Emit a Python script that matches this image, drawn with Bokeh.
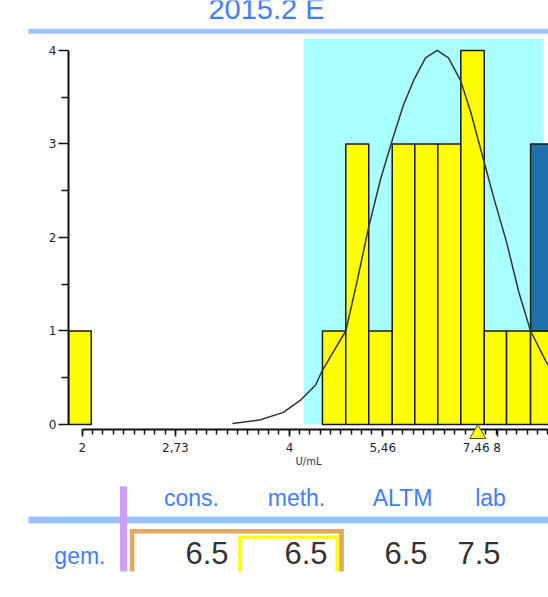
import numpy as np
from bokeh.plotting import figure
from bokeh.layouts import column
from bokeh.models import Range1d, FixedTicker, CustomJSTickFormatter, LogAxis
from bokeh.core.properties import value
from bokeh.embed import file_html
from bokeh.resources import INLINE

# ---------------- data ----------------
title_text = "2015.2 E"
bin_left = [1.910, 4.463, 4.825, 5.210, 5.635, 6.077, 6.563, 7.087, 7.664, 8.258, 8.948]
bin_right = [2.061, 4.825, 5.210, 5.635, 6.077, 6.563, 7.087, 7.664, 8.258, 8.948, 9.660]
count_yellow = [1, 1, 3, 1, 3, 3, 3, 4, 1, 1, 1]
count_blue = [0, 0, 0, 0, 0, 0, 0, 0, 0, 0, 2]
target_range = [4.19, 9.34]
curve_x = [3.303, 3.627, 3.917, 4.147, 4.36, 4.463, 4.63, 4.825, 5.0, 5.205, 5.418,
           5.635, 5.852, 6.071, 6.298, 6.55, 6.80, 7.08, 7.32, 7.614, 7.93, 8.258,
           8.60, 8.948, 9.41, 9.6]
curve_y = [0.01, 0.05, 0.13, 0.26, 0.42, 0.58, 0.78, 1.0, 1.5, 2.1, 2.62,
           3.04, 3.42, 3.7, 3.92, 4.0, 3.92, 3.68, 3.35, 2.88, 2.4, 1.95,
           1.42, 1.0, 0.68, 0.58]
x_ticks = [2, 2.73, 4, 5.46, 7.46, 8]
y_ticks = [0, 1, 2, 3, 4]
y_minor = [0.5, 1.5, 2.5, 3.5]
x_label = "U/mL"
lab_value = 7.5
table_headers = ["cons.", "meth.", "ALTM", "lab"]
table_values = ["6.5", "6.5", "6.5", "7.5"]
row_label = "gem."

BLUE_TXT = "#3f7fff"
BLUE_LINE = "#9cc3ff"
AX_TXT = "#1d1d3d"
AX_LINE = "#111111"

W = 548

# ---------------- header (page y 0..38) ----------------
h = figure(width=W, height=38, x_range=Range1d(0, 548), y_range=Range1d(38, 0),
           min_border=0, toolbar_location=None, output_backend="svg",
           x_axis_location=None, y_axis_location=None, outline_line_color=None)
h.grid.visible = False
h.text(x=[266], y=[8], text=[title_text], text_font=value("Liberation Sans"),
       text_font_size="29px", text_color=BLUE_TXT, text_align="center",
       text_baseline="alphabetic")
h.quad(left=[28], right=[548], top=[28.3], bottom=[33.3], fill_color=BLUE_LINE, line_color=None)

# ---------------- main histogram (page y 38..485) ----------------
p = figure(width=W, height=447, x_axis_type="log",
           x_range=Range1d(1.91, 9.50), y_range=Range1d(-0.171, 4.128),
           min_border_left=68, min_border_right=0, min_border_top=0, min_border_bottom=45,
           toolbar_location=None, output_backend="svg", outline_line_color=None,
           background_fill_color="white", border_fill_color="white")
p.grid.visible = False

p.quad(left=[target_range[0]], right=[target_range[1]], bottom=[0], top=[4.2],
       fill_color="#aaffff", line_color=None)
p.quad(left=bin_left, right=bin_right, bottom=[0] * len(bin_left), top=count_yellow,
       fill_color="#ffff00", line_color="#1a1a1a", line_width=1.5)
bl, br, bb, bt = [], [], [], []
for l, r, y, b in zip(bin_left, bin_right, count_yellow, count_blue):
    if b > 0:
        bl.append(l); br.append(r); bb.append(y); bt.append(y + b)
p.quad(left=bl, right=br, bottom=bb, top=bt, fill_color="#1f71ab",
       line_color="#1a1a1a", line_width=1.5)
p.line(curve_x, curve_y, line_color="#333333", line_width=1.5)

step = np.log(2.73 / 2) / 9
minor = [float(2 * np.exp(k * step)) for k in range(0, 60)]

# labelled axis at the frame bottom: only labels and title
xa = p.xaxis[0]
xa.ticker = FixedTicker(ticks=x_ticks, minor_ticks=minor)
xa.formatter = CustomJSTickFormatter(code="return String(tick).replace('.', ',');")
xa.axis_line_color = None
xa.major_tick_line_color = None
xa.minor_tick_line_color = None
xa.major_tick_out = 0
xa.major_tick_in = 0
xa.minor_tick_out = 0
xa.minor_tick_in = 0
xa.major_label_text_font = "DejaVu Sans"
xa.major_label_text_font_size = "12px"
xa.major_label_text_color = AX_TXT
xa.major_label_standoff = 2
xa.axis_label = x_label
xa.axis_label_text_font = "DejaVu Sans"
xa.axis_label_text_font_size = "10px"
xa.axis_label_text_font_style = "normal"
xa.axis_label_text_color = "#333355"
xa.axis_label_standoff = 1

# axis line and ticks, offset a little below the bars
xr = LogAxis(fixed_location=-0.0535, ticker=FixedTicker(ticks=x_ticks, minor_ticks=minor),
             formatter=CustomJSTickFormatter(code="return '';"), bounds=(2, 30),
             axis_line_width=2, axis_line_color=AX_LINE,
             major_tick_out=7, major_tick_in=0, minor_tick_out=5, minor_tick_in=0,
             major_tick_line_width=1.5, minor_tick_line_width=1.5,
             major_tick_line_color=AX_LINE, minor_tick_line_color=AX_LINE)
p.add_layout(xr, "below")

ya = p.yaxis[0]
ya.ticker = FixedTicker(ticks=y_ticks, minor_ticks=y_minor)
ya.bounds = (0, 4)
ya.axis_line_width = 2
ya.axis_line_color = AX_LINE
ya.major_tick_out = 10
ya.major_tick_in = 0
ya.minor_tick_out = 7
ya.minor_tick_in = 0
ya.major_tick_line_width = 1.5
ya.minor_tick_line_width = 1.5
ya.major_tick_line_color = AX_LINE
ya.minor_tick_line_color = AX_LINE
ya.major_label_text_font = "DejaVu Sans"
ya.major_label_text_font_size = "12px"
ya.major_label_text_color = AX_TXT
ya.major_label_standoff = 2

p.scatter(x=[lab_value], y=[-0.1], marker="triangle", size=16,
          fill_color="#ffff00", line_color="#4d4d20", line_width=1, level="overlay")

# ---------------- table (page y 485..597) ----------------
t = figure(width=W, height=112, x_range=Range1d(0, 548), y_range=Range1d(597, 485),
           min_border=0, toolbar_location=None, output_backend="svg",
           x_axis_location=None, y_axis_location=None, outline_line_color=None)
t.grid.visible = False
t.quad(left=[28], right=[548], top=[516], bottom=[523], fill_color=BLUE_LINE, line_color=None)
t.quad(left=[119.5], right=[126.5], top=[485.7], bottom=[571], fill_color="#cf9fff", line_color=None)
t.multi_line(xs=[[131.6, 131.6, 341, 341]], ys=[[571, 530.7, 530.7, 571]],
             line_color="#e0a862", line_width=4.6, line_join="miter")
t.multi_line(xs=[[239.3, 239.3, 336.6, 336.6]], ys=[[571, 536.7, 536.7, 571]],
             line_color="#ffff00", line_width=3.3, line_join="miter")
t.text(x=[191, 296, 402, 490], y=[497] * 4, text=table_headers,
       text_font=value("Liberation Sans"), text_font_size="23px", text_color=BLUE_TXT,
       text_align="center", text_baseline="alphabetic")
t.text(x=[105], y=[555], text=[row_label], text_font=value("Liberation Sans"),
       text_font_size="23px", text_color=BLUE_TXT, text_align="right",
       text_baseline="alphabetic")
t.text(x=[228, 327, 427, 500], y=[552] * 4, text=table_values,
       text_font=value("Liberation Sans"), text_font_size="31px", text_color="#333333",
       text_align="right", text_baseline="alphabetic")

for f in (h, p, t):
    try:
        f.frame_align = False
    except Exception:
        pass

layout = column(h, p, t, spacing=0)
open("out.html", "w").write(file_html(layout, INLINE))
